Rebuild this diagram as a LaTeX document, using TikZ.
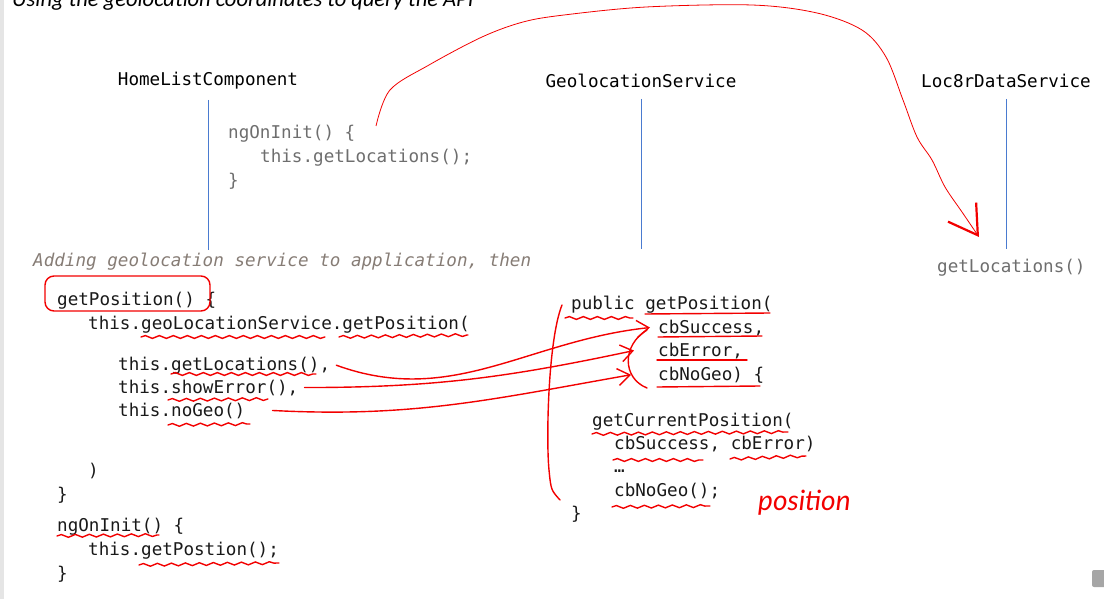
\documentclass[tikz,border=0pt]{standalone}
\usepackage{fontspec}
\setmonofont{DejaVu Sans Mono}
\newfontfamily\titlefont{Carlito}
\newfontfamily\handfont{Lato}
\usepackage{xcolor}
\usepackage{tikz}
\usetikzlibrary{arrows.meta,decorations.pathmorphing,calc}
\tikzset{>=stealth}
\definecolor{lifeblue}{HTML}{4A7BD0}
\definecolor{codegray}{HTML}{6E6E6E}
\definecolor{notegray}{HTML}{867C75}
\definecolor{inkred}{HTML}{F20000}

\begin{document}
\begin{tikzpicture}[x=1pt, y=1pt,
				head/.style={inner sep=0pt, font=\ttfamily\fontsize{17.6}{21}\selectfont, text=black},
				code/.style={anchor=base west, inner sep=0pt, font=\ttfamily\fontsize{17.6}{21}\selectfont, text=black!90},
				graycode/.style={code, text=codegray},
				note/.style={code, text=notegray, font=\ttfamily\itshape\fontsize{17.6}{21}\selectfont},
				lifeline/.style={draw=lifeblue, line width=0.9pt},
				ink/.style={draw=inkred, line width=1.4pt, line cap=round},
				inkarrow/.style={ink, -{Straight Barb[length=12pt, width=17pt]}},
				squig/.style={ink, decorate, decoration={snake, amplitude=1.4pt, segment length=14pt}}]
				
				\useasboundingbox (0,0) rectangle (1104,-599);
				\clip (0,0) rectangle (1104,-599);
				\fill[black!10] (0,0) rectangle (3.5,-599);
				\node[anchor=base west, inner sep=0pt, font=\titlefont\itshape\fontsize{22.5}{26}\selectfont] (title) at (12,-6.5) {Using the geolocation coordinates to query the API};
				
				% lifelines
				\node[head] (hlc) at (208,-81) {HomeListComponent};
				\node[head] (geo) at (641,-81) {GeolocationService};
				\node[head] (lds) at (1006,-81) {Loc8rDataService};
				\draw[lifeline] (hlc |- 0,-100) -- (hlc |- 0,-250);
				\draw[lifeline] (geo |- 0,-99) -- (geo |- 0,-249);
				\draw[lifeline] (lds |- 0,-99) -- (lds |- 0,-249);
				
				\node[graycode] (init) at (228,-139) {ngOnInit() \{};
				\node[graycode] (initcall) at (260,-163) {this.getLocations();};
				\node[graycode] (initend) at (228,-187) {\}};
				\node[graycode] (getloc) at (937,-272) {getLocations()};
				\node[note] (adding) at (33,-266) {Adding geolocation service to application, then};
				
				% component code
				\node[code] (gp) at (57,-305) {getPosition() \{};
				\node[code] (svc) at (88,-329) {this.geoLocationService.getPosition(};
				\node[code] (loc) at (118,-370) {this.getLocations(),};
				\node[code] (err) at (118,-393) {this.showError(),};
				\node[code] (nogeo) at (118,-416) {this.noGeo()};
				\node[code] (close) at (88,-476) {)};
				\node[code] (gpend) at (57,-500) {\}};
				\node[code] (init2) at (57,-531) {ngOnInit() \{};
				\node[code] (call2) at (88,-555) {this.getPostion();};
				\node[code] (init2end) at (57,-579) {\}};
				
				% service code
				\node[code] (pub) at (571,-309) {public getPosition(};
				\node[code] (succ) at (658,-333) {cbSuccess,};
				\node[code] (cberr) at (658,-356) {cbError,};
				\node[code] (cbno) at (658,-380) {cbNoGeo) \{};
				\node[code] (gcp) at (592,-426) {getCurrentPosition(};
				\node[code] (gcpargs) at (614,-449) {cbSuccess, cbError)};
				\node[code] (dots) at (614,-472) {…};
				\node[code] (callno) at (614,-496) {cbNoGeo();};
				\node[code] (pubend) at (571,-519) {\}};
				\node[anchor=base west, inner sep=0pt, text=inkred, font=\handfont\itshape\fontsize{28}{30}\selectfont] (hand) at (758,-510) {position};
				
				% red ink
				\coordinate (arcfrom) at (376,-126);
				\coordinate (arcto) at (979,-237);
				\draw[draw=inkred, line width=0.8pt, -{Straight Barb[length=28pt, width=34pt, line width=2.2pt]}]
					plot[smooth, tension=0.55] coordinates {(arcfrom) (390,-90) (429,-65) (482,-37) (523,-22) (564,-15) (646,-7) (752,-5) (817,-13) (862,-30) (886,-57) (903,-100) (917,-137) (932,-160) (945,-187) (962,-212) (arcto)};
				\draw[ink, rounded corners=9pt] (45,-276) rectangle (210,-311);
				\draw[inkarrow] ([xshift=6pt]loc.east) to[out=-20, in=186] ([xshift=-8pt]succ.west);
				\draw[inkarrow] ([xshift=6pt]err.east) to[out=0, in=192] ([xshift=-24pt]cberr.west);
				\draw[inkarrow] ([xshift=27pt]nogeo.east) to[out=-3, in=190] ([xshift=-27pt]cbno.west);
				\draw[ink] (647,-330) .. controls (622,-345) and (622,-378) .. (647,-388);
				\draw[ink] (562,-305) .. controls (548,-340) and (546,-440) .. (549,-470) .. controls (551,-490) .. (560,-500);
				
				\draw[squig] (141,-337) -- (325,-337);
				\draw[squig] (339,-337) -- (468,-335);
				\draw[squig] (171,-374) -- (316,-374);
				\draw[squig] (168,-400) -- (268,-399);
				\draw[squig] (168,-425) -- (250,-424);
				\draw[squig] (57,-536) -- (159,-535);
				\draw[squig] (139,-565) -- (279,-563);
				\draw[squig] (565,-318) -- (633,-318);
				\draw[ink] (645,-314) -- (770,-313);
				\draw[ink] (658,-337) -- (762,-336);
				\draw[ink] (657,-360) -- (747,-360);
				\draw[ink] (657,-387) -- (760,-386);
				\draw[squig] (592,-434) -- (788,-432);
				\draw[squig] (613,-460) -- (703,-460);
				\draw[squig] (730,-459) -- (806,-456);
				\draw[squig] (612,-507) -- (710,-506);
				
				\fill[black!35, rounded corners=2pt] (1092,-570) rectangle (1108,-587);
				
			\end{tikzpicture}
\end{document}
